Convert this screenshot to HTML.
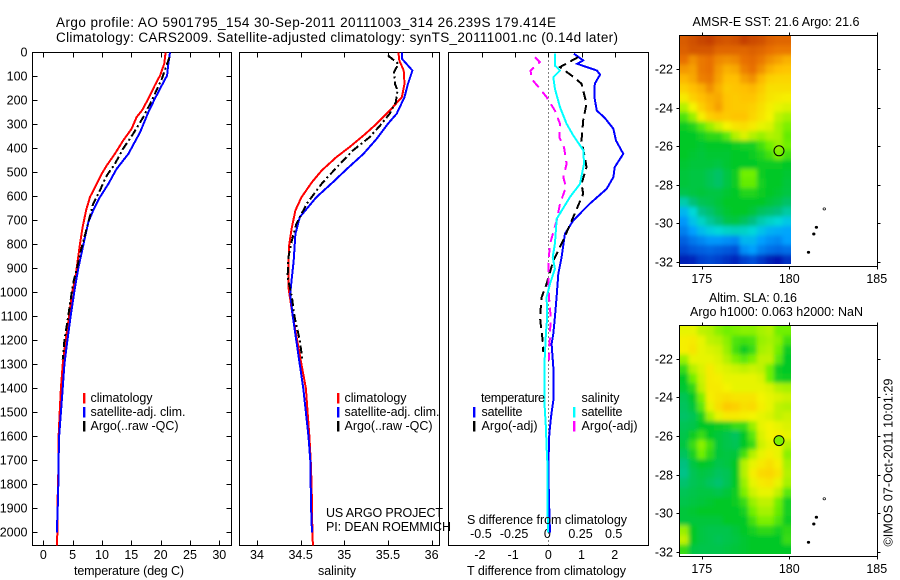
<!DOCTYPE html>
<html>
<head>
<meta charset="utf-8">
<title>Argo profile 5901795_154</title>
<style>
html,body{margin:0;padding:0;background:#fff;}
svg{display:block;}
text{font-family:"Liberation Sans",sans-serif;font-size:12.5px;fill:#000;}
</style>
</head>
<body>
<svg id="chart" xmlns="http://www.w3.org/2000/svg" width="900" height="580" viewBox="0 0 900 580">
<defs>
<clipPath id="clipA"><rect x="680" y="36" width="111" height="228"/></clipPath>
<clipPath id="clipB"><rect x="680" y="326" width="111" height="228"/></clipPath>
<filter id="soft" filterUnits="userSpaceOnUse" x="640" y="0" width="200" height="580"><feGaussianBlur stdDeviation="2"/></filter>
</defs>
<text x="56" y="27" textLength="500" style="font-size:13.5px">Argo profile: AO 5901795_154 30-Sep-2011 20111003_314 26.239S 179.414E</text>
<text x="56" y="42" textLength="562" style="font-size:13.5px">Climatology: CARS2009. Satellite-adjusted climatology: synTS_20111001.nc (0.14d later)</text>

<g id="plots"></g>
<g id="maps"></g>

<text x="74" y="575" textLength="110">temperature (deg C)</text>
<text x="318" y="575" textLength="38">salinity</text>
<text x="467" y="575" textLength="159">T difference from climatology</text>
<text x="467" y="524" textLength="160">S difference from climatology</text>

<g>
<rect x="83" y="393" width="2.4" height="10.5" fill="#ff0000"/>
<rect x="83" y="407" width="2.4" height="10.5" fill="#0000ff"/>
<rect x="83" y="421" width="2.4" height="10.5" fill="#000"/>
<text x="90.5" y="402" textLength="62">climatology</text>
<text x="90.5" y="416" textLength="95">satellite-adj. clim.</text>
<text x="90.5" y="430" textLength="88">Argo(..raw -QC)</text>
</g>
<g>
<rect x="337" y="393" width="2.4" height="10.5" fill="#ff0000"/>
<rect x="337" y="407" width="2.4" height="10.5" fill="#0000ff"/>
<rect x="337" y="421" width="2.4" height="10.5" fill="#000"/>
<text x="344.5" y="402" textLength="62">climatology</text>
<text x="344.5" y="416" textLength="95">satellite-adj. clim.</text>
<text x="344.5" y="430" textLength="88">Argo(..raw -QC)</text>
</g>
<text x="326" y="517" textLength="117">US ARGO PROJECT</text>
<text x="326" y="531" textLength="125">PI: DEAN ROEMMICH</text>
<g>
<text x="481" y="402" textLength="64">temperature</text>
<text x="581.5" y="402" textLength="38">salinity</text>
<rect x="473" y="407" width="2.4" height="10.5" fill="#0000ff"/>
<rect x="473" y="421" width="2.4" height="10.5" fill="#000"/>
<rect x="573" y="407" width="2.4" height="10.5" fill="#00ffff"/>
<rect x="573" y="421" width="2.4" height="10.5" fill="#ff00ff"/>
<text x="481.5" y="416" textLength="41">satellite</text>
<text x="481.5" y="430" textLength="56">Argo(-adj)</text>
<text x="581.5" y="416" textLength="41">satellite</text>
<text x="581.5" y="430" textLength="56">Argo(-adj)</text>
</g>

<text x="692.5" y="26" textLength="167">AMSR-E SST: 21.6  Argo: 21.6</text>
<text x="709" y="302" textLength="88">Altim. SLA: 0.16</text>
<text x="690" y="316" textLength="173">Argo h1000: 0.063 h2000: NaN</text>
<text transform="translate(892.5,546.5) rotate(-90)" textLength="168">©IMOS 07-Oct-2011 10:01:29</text>
</svg>
<script>
// ---- Axis data ----
const depthTicks = [0,100,200,300,400,500,600,700,800,900,1000,1100,1200,1300,1400,1500,1600,1700,1800,1900,2000];
const tempTicks = [0,5,10,15,20,25,30];
const salTicks = [34,34.5,35,35.5,36];
const salTickLabels = ['34','34.5','35','35.5','36'];
const tDiffTicks = [-2,-1,0,1,2];
const sDiffTicks = [-0.5,-0.25,0,0.25,0.5];
const sDiffTickLabels = ['-0.5','-0.25','0','0.25','0.5'];
const lonTicks = [175,180,185];
const latTicks = [-22,-24,-26,-28,-30,-32];

// ---- Temperature profiles ----
const tempClimDepth = [0,47,96,137,193,242,269,318,367,422,471,506,547,603,658,728,797,880,950,1005,1100,1200,1300,1400,1500,1600,1700,1800,1900,2000,2054];
const tempClimValue = [20.85,20.6,19.9,19.0,17.9,16.8,15.9,15.05,13.6,12.2,10.8,9.95,9.1,7.95,7.3,6.7,6.25,5.8,5.4,4.85,4.4,3.8,3.3,3.0,2.8,2.6,2.6,2.5,2.4,2.4,2.3];
const tempSatDepth = [0,47,96,137,193,249,332,422,485,547,603,658,707,769,839,894,978,1100,1200,1300,1400,1500,1600,1700,1800,1900,2000];
const tempSatValue = [21.6,21.3,21.1,20.2,19.0,17.9,16.5,14.5,12.5,11.1,9.65,8.5,7.67,7.1,6.5,6.0,5.4,4.66,4.1,3.6,3.3,3.0,2.7,2.6,2.55,2.45,2.3];
const tempArgoDepth = [20,110,158,214,269,339,401,464,513,575,630,839,894,950,1005,1100,1200,1280];
const tempArgoValue = [21.5,20.2,19.3,18.2,17.05,15.3,13.6,12.2,10.8,9.65,8.5,6.25,5.8,5.2,4.8,4.25,3.6,3.3];

// ---- Salinity profiles ----
const salClimDepth = [0,33,75,130,186,242,297,346,394,436,492,540,603,658,728,797,880,978,1100,1200,1300,1400,1500,1600,1700,1800,1900,2000,2054];
const salClimValue = [35.62,35.63,35.68,35.69,35.66,35.52,35.37,35.22,35.06,34.91,34.74,34.63,34.51,34.44,34.40,34.37,34.36,34.36,34.41,34.46,34.51,34.56,34.58,34.60,34.615,34.625,34.63,34.635,34.64];
const salSatDepth = [0,26,75,130,186,255,297,360,422,485,540,603,686,756,867,936,1005,1100,1200,1300,1400,1500,1600,1700,1800,1900,2000];
const salSatValue = [35.66,35.66,35.78,35.73,35.69,35.6,35.5,35.37,35.22,35.03,34.87,34.68,34.49,34.44,34.42,34.40,34.38,34.41,34.45,34.49,34.53,34.56,34.59,34.61,34.615,34.62,34.63];
const salArgoDepth = [12,47,82,130,158,207,255,304,353,408,464,547,630,714,783,853,936,1019,1100,1200,1280];
const salArgoValue = [35.5,35.62,35.57,35.58,35.61,35.59,35.52,35.41,35.29,35.1,34.95,34.74,34.57,34.45,34.40,34.36,34.35,34.40,34.43,34.49,34.52];

// ---- Difference profiles ----
const tDiffSatDepth = [5,33,47,75,92,130,186,242,272,318,367,422,478,519,568,630,700,756,853,922,1019,1103,1172,1214,1311,1450,1519,1589,1728,1867,2000];
const tDiffSatValue = [0.77,1.05,0.87,1.46,1.56,1.4,1.39,1.46,1.7,1.96,2.04,2.26,2.0,1.96,1.76,1.25,0.75,0.5,0.4,0.3,0.25,0.2,0.15,0.1,0.15,0.15,0.08,0.03,0,0.02,0.05];
const tDiffArgoDepth = [19,61,96,130,158,214,283,367,436,478,547,589,686,783,867,964,1019,1103,1144,1200,1248];
const tDiffArgoValue = [0.9,0.35,0.7,1.0,1.05,1.15,1.05,1.0,1.1,1.15,1.0,1.05,0.75,0.45,0.15,-0.05,-0.2,-0.25,-0.22,-0.17,-0.15];
const sDiffSatDepth = [5,54,75,103,151,228,297,346,408,464,547,603,693,797,853,901,964,1019,1103,1172,1311,1450,1561,1644,1728,1867,2000];
const sDiffSatValue = [0.05,0.05,0.088,0.038,0.05,0.088,0.138,0.188,0.264,0.269,0.239,0.163,0.063,0.05,0.033,0.05,0.013,-0.013,-0.008,-0.018,-0.03,-0.03,-0.018,-0.013,-0.005,-0.005,-0.003];
const sDiffArgoDepth = [19,40,75,110,151,186,242,297,353,394,464,519,561,630,700,797,881,964,1019,1103,1172,1283];
const sDiffArgoValue = [-0.1,-0.063,-0.133,-0.126,-0.063,-0.013,0.05,0.088,0.083,0.118,0.138,0.113,0.133,0.088,0.063,0.013,0,0,0.005,0.018,0.013,0.005];

// ---- Map data (colour-scale index 0..10, rows north to south) ----
const sstGrid = [
[9.4,9.6,9.8,9.9,9.6,9.5,9.6,9.9,9.7,9.6,9.3,9.2,9.2],
[9.3,9.5,9.5,9.5,9.2,9.2,9.2,9.2,9.3,9.2,9.0,8.9,8.9],
[9.0,8.6,8.9,9.0,8.7,8.6,8.7,9.0,9.1,8.9,8.6,8.4,8.2],
[8.5,8.4,8.9,9.0,8.5,8.2,8.3,8.8,9.0,8.6,8.2,8.0,7.9],
[8.1,8.3,8.8,8.9,8.4,8.0,8.0,8.4,8.6,8.1,7.7,7.6,7.6],
[7.7,8.0,8.2,8.6,8.2,7.8,7.9,8.0,8.1,7.8,7.4,7.4,7.4],
[7.2,7.7,8.0,8.2,8.3,7.9,7.8,7.9,7.9,7.6,7.3,7.2,7.1],
[6.5,7.0,7.7,8.1,8.4,7.9,7.8,7.8,7.7,7.4,7.1,6.9,6.8],
[5.7,6.3,7.1,7.7,7.9,7.8,7.9,7.9,7.6,7.3,7.0,6.6,6.4],
[5.1,5.3,5.8,6.3,6.7,7.0,7.3,7.4,7.2,6.9,6.8,6.4,6.1],
[5.0,5.0,5.2,5.4,5.4,5.8,6.5,6.8,6.5,6.3,6.5,6.4,5.9],
[5.0,5.0,4.9,5.0,5.0,5.0,5.1,5.2,5.2,5.6,6.0,6.3,6.0],
[5.0,4.9,4.8,4.9,4.9,4.9,5.0,5.0,5.1,5.3,5.6,6.1,5.6],
[4.9,4.8,4.8,4.8,4.7,4.9,5.0,5.0,5.0,5.1,5.1,5.1,5.0],
[4.8,4.7,4.7,4.5,4.3,4.7,5.1,6.0,6.0,5.1,5.0,5.0,4.9],
[4.8,4.7,4.7,4.5,4.3,4.7,5.1,5.9,5.9,5.2,5.0,5.0,4.8],
[4.6,4.7,4.8,4.7,4.7,4.9,5.0,5.3,5.3,5.1,5.0,4.9,4.7],
[3.5,4.1,4.5,4.6,4.8,5.0,5.0,5.0,5.0,5.0,4.8,4.6,4.3],
[2.4,3.0,3.9,4.2,4.6,4.9,5.0,5.0,4.8,4.4,4.2,4.0,3.6],
[1.9,2.6,3.2,3.7,4.1,4.6,4.7,4.4,4.0,3.5,3.2,3.0,2.7],
[1.6,2.0,2.5,2.8,3.0,3.2,3.3,3.2,3.0,2.6,2.3,2.2,2.1],
[1.2,1.5,1.7,1.9,1.9,1.8,1.7,2.4,2.4,2.0,1.8,1.7,2.0],
[0.9,1.1,1.2,1.3,1.2,1.1,1.0,1.8,2.0,1.6,1.4,1.3,1.4],
[0.4,0.5,0.8,0.9,0.8,0.6,0.5,0.8,1.0,0.7,0.4,0.3,0.6]
];
const slaGrid = [
[6.9,6.9,6.6,6.5,6.2,6.0,6.1,6.2,6.2,6.4,6.5,6.0,6.0],
[7.1,7.2,6.9,6.6,6.5,6.2,5.7,5.6,5.7,6.3,6.4,6.2,5.6],
[7.1,7.3,6.9,6.8,6.7,6.3,5.6,5.1,5.5,6.4,6.5,6.0,5.1],
[6.3,6.9,6.9,6.9,6.8,6.5,6.1,5.8,6.1,6.6,6.6,5.8,5.0],
[5.5,6.5,6.8,7.2,6.9,6.8,6.7,6.6,6.7,6.6,6.0,5.1,5.0],
[5.0,6.0,6.7,7.2,7.1,6.9,6.9,6.9,6.9,6.8,6.0,5.2,5.1],
[4.9,5.4,6.6,7.2,7.2,7.0,6.9,6.9,6.9,6.9,6.8,6.5,6.4],
[4.5,5.0,6.1,7.1,7.3,7.4,7.3,7.3,7.3,7.0,6.9,6.8,6.7],
[4.4,4.8,5.8,6.9,7.4,7.8,7.7,7.4,7.5,7.1,6.9,6.6,6.5],
[4.3,4.5,5.2,6.4,6.9,7.2,7.2,7.1,7.0,6.9,6.8,6.6,6.7],
[4.5,4.6,5.0,5.0,5.1,5.2,5.5,5.5,6.3,6.9,7.0,6.9,6.8],
[4.6,5.1,5.5,5.0,4.8,4.6,4.4,5.0,5.8,6.8,7.0,7.1,6.9],
[4.7,5.5,6.2,5.6,4.8,4.6,4.5,5.0,5.5,6.7,6.9,6.9,6.5],
[4.4,5.2,6.0,5.4,4.8,4.7,4.8,5.6,6.5,6.9,7.1,6.9,6.2],
[4.0,4.7,5.0,4.9,4.6,4.7,5.0,6.5,6.9,7.2,7.4,7.1,6.4],
[3.9,4.5,4.7,4.6,4.4,4.5,5.0,6.5,7.1,7.5,7.6,7.3,6.5],
[4.2,4.5,4.6,4.4,4.2,4.5,5.0,6.3,6.9,7.2,7.3,6.9,6.4],
[4.5,4.6,4.7,4.7,4.6,4.8,5.1,6.1,6.7,6.9,6.9,6.6,5.8],
[4.6,4.7,4.8,4.9,5.0,5.0,5.1,5.5,6.3,6.6,6.6,6.0,5.2],
[4.8,4.9,5.0,5.0,5.0,5.0,5.0,5.2,6.0,6.4,6.4,5.9,5.2],
[4.8,4.8,4.8,4.8,4.8,5.0,5.0,5.0,5.6,6.1,6.1,5.7,5.1],
[6.3,5.0,4.7,4.6,4.6,4.6,4.8,5.0,5.2,5.4,5.4,5.2,5.4],
[6.6,5.0,4.7,4.6,4.5,4.6,4.7,4.9,5.0,5.0,5.0,5.0,5.5],
[5.5,4.7,4.6,4.6,4.6,4.7,4.8,4.9,5.0,5.0,5.0,5.0,5.0]
];
const colourStops = ['#0000a0','#0050d8','#00a0ff','#00d8d8','#00c080','#00c828','#70f000','#f4f400','#ffc000','#e87000','#c03c00'];
const islandLon = [182.0,181.55,181.4,181.1];
const islandLat = [-29.25,-30.2,-30.55,-31.5];
const floatLon = [179.414];
const floatLat = [-26.239];
const floatSstIndex = [6.0];
const floatSlaIndex = [6.1];

// ---- Drawing ----
const NS = 'http://www.w3.org/2000/svg';
const plots = document.getElementById('plots');
const maps = document.getElementById('maps');

function mk(tag, parent) {
  const el = document.createElementNS(NS, tag);
  parent.appendChild(el);
  return el;
}
function drawLine(parent, name, x1, y1, x2, y2) {
  const el = mk('line', parent);
  
  
  el.setAttribute('x1', x1);
  el.setAttribute('y1', y1);
  el.setAttribute('x2', x2);
  el.setAttribute('y2', y2);
  el.setAttribute('stroke', '#000');
  el.setAttribute('stroke-width', '1');
  el.setAttribute('shape-rendering', 'crispEdges');
  return el;
}
function drawLabel(parent, name, txt, x, y, anchor) {
  const el = mk('text', parent);
  
  
  el.setAttribute('x', x);
  el.setAttribute('y', y);
  el.setAttribute('text-anchor', anchor);
  el.textContent = txt;
  return el;
}
function drawFrame(parent, name, x, y, w, h) {
  const el = mk('rect', parent);
  
  
  el.setAttribute('x', x);
  el.setAttribute('y', y);
  el.setAttribute('width', w);
  el.setAttribute('height', h);
  el.setAttribute('fill', 'none');
  el.setAttribute('stroke', '#000');
  el.setAttribute('stroke-width', '1');
  el.setAttribute('shape-rendering', 'crispEdges');
  return el;
}
function drawSeries(parent, name, depth, values, xs, colour, width, dash) {
  const yd = d => 52.5 + d * 0.24;
  const pts = depth.map((d, i) => xs(values[i]).toFixed(1) + ',' + yd(d).toFixed(1)).join(' ');
  const el = mk('polyline', parent);
  
  
  el.setAttribute('points', pts);
  el.setAttribute('fill', 'none');
  el.setAttribute('stroke', colour);
  el.setAttribute('stroke-width', width);
  el.setAttribute('shape-rendering', 'crispEdges');
  if (dash) el.setAttribute('stroke-dasharray', dash);
  return el;
}

const TOP = 52.5, BOT = 545.5;
const yDepth = d => TOP + d * 0.24;
const xTemp = t => 43.3 + 5.867 * t;
const xSal = s => 257 + 87.3 * (s - 34);
const xT = v => 548.3 + 33.2 * v;
const xS = v => 548.3 + 132.8 * v;

// Panel frames
drawFrame(plots, 'temperature-panel-frame', 32.5, TOP, 199, BOT - TOP);
drawFrame(plots, 'salinity-panel-frame', 239.5, TOP, 200, BOT - TOP);
drawFrame(plots, 'difference-panel-frame', 448.5, TOP, 200, BOT - TOP);

// Depth axis
depthTicks.forEach(d => {
  const y = Math.round(yDepth(d) - 0.5) + 0.5;
  drawLine(plots, 'depth-tick-left', 32.5, y, 37.5, y);
  drawLine(plots, 'depth-tick-right', 226.5, y, 231.5, y);
  drawLabel(plots, 'depth-tick-label', String(d), 27.5, y + 4, 'end');
});
// Temperature axis
tempTicks.forEach(t => {
  const x = Math.round(xTemp(t)) + 0.5;
  drawLine(plots, 'temperature-tick-top', x, TOP, x, TOP + 5);
  drawLine(plots, 'temperature-tick-bottom', x, BOT - 5, x, BOT);
  drawLabel(plots, 'temperature-tick-label', String(t), xTemp(t), 559, 'middle');
});
// Salinity axis
salTicks.forEach((s, i) => {
  const x = Math.round(xSal(s)) + 0.5;
  drawLine(plots, 'salinity-tick-top', x, TOP, x, TOP + 5);
  drawLine(plots, 'salinity-tick-bottom', x, BOT - 5, x, BOT);
  drawLabel(plots, 'salinity-tick-label', salTickLabels[i], xSal(s), 559, 'middle');
});
// Difference axes
tDiffTicks.forEach(v => {
  const x = Math.round(xT(v)) + 0.5;
  drawLine(plots, 't-difference-tick-top', x, TOP, x, TOP + 5);
  drawLabel(plots, 't-difference-tick-label', String(v), xT(v) - (v < 0 ? 2 : 0), 559, 'middle');
});
sDiffTicks.forEach((v, i) => {
  drawLabel(plots, 's-difference-tick-label', sDiffTickLabels[i], xS(v) - 1, 538, 'middle');
});
const zero = drawLine(plots, 'zero-difference-line', 548.5, TOP, 548.5, BOT);
zero.setAttribute('stroke-dasharray', '1 3');

// Series
drawSeries(plots, 'temperature-climatology-line', tempClimDepth, tempClimValue, xTemp, '#ff0000', 2);
drawSeries(plots, 'temperature-satellite-line', tempSatDepth, tempSatValue, xTemp, '#0000ff', 2);
drawSeries(plots, 'temperature-argo-line', tempArgoDepth, tempArgoValue, xTemp, '#000', 2, '8 3 2 3');
drawSeries(plots, 'salinity-climatology-line', salClimDepth, salClimValue, xSal, '#ff0000', 2);
drawSeries(plots, 'salinity-satellite-line', salSatDepth, salSatValue, xSal, '#0000ff', 2);
drawSeries(plots, 'salinity-argo-line', salArgoDepth, salArgoValue, xSal, '#000', 2, '8 3 2 3');
drawSeries(plots, 'temperature-difference-satellite-line', tDiffSatDepth, tDiffSatValue, xT, '#0000ff', 2);
drawSeries(plots, 'temperature-difference-argo-line', tDiffArgoDepth, tDiffArgoValue, xT, '#000', 2, '9 5');
drawSeries(plots, 'salinity-difference-argo-line', sDiffArgoDepth, sDiffArgoValue, xS, '#ff00ff', 2, '9 6');
drawSeries(plots, 'salinity-difference-satellite-line', sDiffSatDepth, sDiffSatValue, xS, '#00ffff', 2);

// Maps
function hexRgb(h) { return [1, 3, 5].map(i => parseInt(h.substr(i, 2), 16)); }
function colourFor(v) {
  const c = Math.max(0, Math.min(10, v));
  const i = Math.min(9, Math.floor(c));
  const f = c - i;
  const a = hexRgb(colourStops[i]);
  const b = hexRgb(colourStops[i + 1]);
  return 'rgb(' + a.map((p, k) => Math.round(p + (b[k] - p) * f)).join(',') + ')';
}
const lonX = lon => 789.3 + (lon - 180) * 17.5;

function drawMap(prefix, grid, clipId, frameTop, frameBot, imgTop, imgBot, latY, lonLabelY, floatIndex, floatFilled) {
  const imgLeft = 680, imgRight = 791;
  const rows = grid.length;
  const cols = grid[0].length;
  const cw = (imgRight - imgLeft) / cols;
  const ch = (imgBot - imgTop) / rows;
  const clip = mk('g', maps);
  
  
  clip.setAttribute('clip-path', 'url(#' + clipId + ')');
  const soft = mk('g', clip);
  soft.setAttribute('filter', 'url(#soft)');
  grid.forEach((row, r) => {
    row.forEach((v, c) => {
      const cell = mk('rect', soft);
      
      
      const pad = 14;
      const x0 = imgLeft + c * cw - (c === 0 ? pad : 0);
      const x1 = imgLeft + (c + 1) * cw + (c === cols - 1 ? pad : 0) + 0.5;
      const y0 = imgTop + r * ch - (r === 0 ? pad : 0);
      const y1 = imgTop + (r + 1) * ch + (r === rows - 1 ? pad : 0) + 0.5;
      cell.setAttribute('x', x0.toFixed(2));
      cell.setAttribute('y', y0.toFixed(2));
      cell.setAttribute('width', (x1 - x0).toFixed(2));
      cell.setAttribute('height', (y1 - y0).toFixed(2));
      cell.setAttribute('fill', colourFor(v));
    });
  });
  drawFrame(maps, prefix + '-frame', 679.5, frameTop, 198, frameBot - frameTop);
  lonTicks.forEach(lon => {
    const x = Math.round(lonX(lon)) + 0.5;
    drawLine(maps, prefix + '-lon-tick-top', x, frameTop - 3, x, frameTop);
    drawLine(maps, prefix + '-lon-tick-bottom', x, frameBot, x, frameBot + 3);
    drawLabel(maps, prefix + '-lon-label', String(lon), lonX(lon), lonLabelY, 'middle');
  });
  latTicks.forEach(lat => {
    const y = Math.round(latY(lat)) + 0.5;
    drawLine(maps, prefix + '-lat-tick-left', 676.5, y, 679.5, y);
    drawLine(maps, prefix + '-lat-tick-right', 877.5, y, 880.5, y);
    drawLabel(maps, prefix + '-lat-label', String(lat), 673, y + 4, 'end');
  });
  islandLon.forEach((lon, i) => {
    const isl = mk('ellipse', maps);
    
    
    isl.setAttribute('cx', lonX(lon).toFixed(1));
    isl.setAttribute('cy', latY(islandLat[i]).toFixed(1));
    isl.setAttribute('rx', '1.3');
    isl.setAttribute('ry', '1.1');
    isl.setAttribute('fill', i === 0 ? '#fff' : '#000');
    isl.setAttribute('stroke', '#000');
    isl.setAttribute('stroke-width', '0.7');
  });
  const dot = mk('circle', maps);
  
  
  dot.setAttribute('cx', lonX(floatLon[0]).toFixed(1));
  dot.setAttribute('cy', latY(floatLat[0]).toFixed(1));
  dot.setAttribute('r', '5');
  dot.setAttribute('fill', floatFilled ? colourFor(floatIndex) : 'none');
  dot.setAttribute('stroke', '#000');
  dot.setAttribute('stroke-width', '1');
}
drawMap('sst-map', sstGrid, 'clipA', 35.5, 266.5, 36, 264, lat => 69 + (-22 - lat) * 19.3, 283, floatSstIndex[0], false);
drawMap('sla-map', slaGrid, 'clipB', 325.5, 556.5, 326, 554, lat => 358.7 + (-22 - lat) * 19.33, 573, floatSlaIndex[0], true);
</script>
</body>
</html>
